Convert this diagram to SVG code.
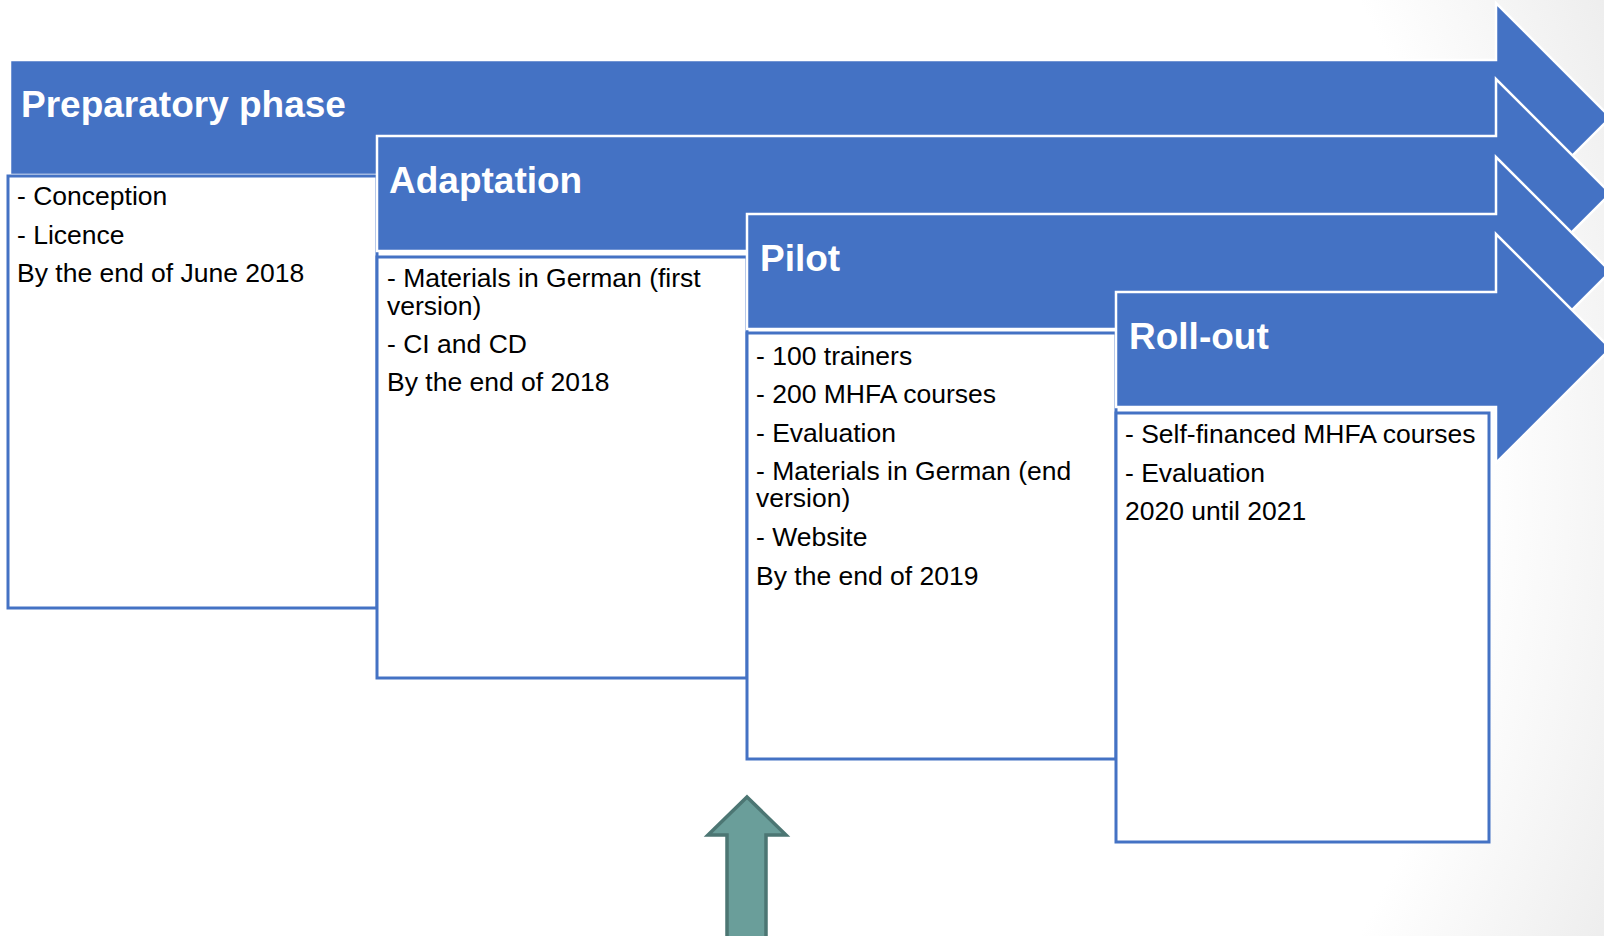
<svg xmlns="http://www.w3.org/2000/svg" width="1604" height="936" viewBox="0 0 1604 936">
  <defs>
    <radialGradient id="bg" gradientUnits="userSpaceOnUse" cx="520" cy="468" r="1200">
      <stop offset="0" stop-color="#ffffff"/>
      <stop offset="0.8" stop-color="#ffffff"/>
      <stop offset="1" stop-color="#ececec"/>
    </radialGradient>
  </defs>
  <style>
    .arrow { fill: #4472C4; stroke: #ffffff; stroke-width: 2.5; stroke-linejoin: miter; }
    .box { fill: #ffffff; stroke: #4472C4; stroke-width: 3; }
    .head { font-family: "Liberation Sans", Arial, sans-serif; font-weight: bold; font-size: 37px; fill: #ffffff; }
    .body { font-family: "Liberation Sans", Arial, sans-serif; font-size: 26.5px; fill: #000000; }
    .up { fill: #6A9E9A; stroke: #4C7673; stroke-width: 3.5; stroke-linejoin: miter; }
  </style>
  <rect x="0" y="0" width="1604" height="936" fill="url(#bg)"/>

  <g id="phase-preparatory">
    <polygon class="arrow" points="10,60 1496,60 1496,3 1610.5,117.5 1496,232 1496,175 10,175"/>
    <rect class="box" x="8" y="176" width="369" height="432"/>
    <text class="head" x="21" y="117">Preparatory phase</text>
    <text class="body" x="17" y="205">- Conception</text>
    <text class="body" x="17" y="244">- Licence</text>
    <text class="body" x="17" y="282">By the end of June 2018</text>
  </g>

  <g id="phase-adaptation">
    <polygon class="arrow" points="377,136 1496,136 1496,79 1610.5,193.5 1496,308 1496,251 377,251"/>
    <rect class="box" x="377" y="257" width="370" height="421"/>
    <text class="head" x="389" y="193">Adaptation</text>
    <text class="body" x="387" y="287">- Materials in German (first</text>
    <text class="body" x="387" y="315">version)</text>
    <text class="body" x="387" y="353">- CI and CD</text>
    <text class="body" x="387" y="391">By the end of 2018</text>
  </g>

  <g id="phase-pilot">
    <polygon class="arrow" points="747,214 1496,214 1496,157 1610.5,271.5 1496,386 1496,329 747,329"/>
    <rect class="box" x="747" y="333" width="369" height="426"/>
    <text class="head" x="760" y="271">Pilot</text>
    <text class="body" x="756" y="365">- 100 trainers</text>
    <text class="body" x="756" y="403">- 200 MHFA courses</text>
    <text class="body" x="756" y="442">- Evaluation</text>
    <text class="body" x="756" y="480">- Materials in German (end</text>
    <text class="body" x="756" y="507">version)</text>
    <text class="body" x="756" y="546">- Website</text>
    <text class="body" x="756" y="585">By the end of 2019</text>
  </g>

  <g id="phase-rollout">
    <polygon class="arrow" points="1116,292 1496,292 1496,234 1610.5,348.5 1496,463 1496,407 1116,407"/>
    <rect class="box" x="1116" y="413" width="373" height="429"/>
    <text class="head" x="1129" y="349">Roll-out</text>
    <text class="body" x="1125" y="443">- Self-financed MHFA courses</text>
    <text class="body" x="1125" y="482">- Evaluation</text>
    <text class="body" x="1125" y="520">2020 until 2021</text>
  </g>

  <g id="connectors">
    <polygon class="up" points="747,797 786,835 766,835 766,940 727,940 727,835 708,835"/>
  </g>
</svg>
